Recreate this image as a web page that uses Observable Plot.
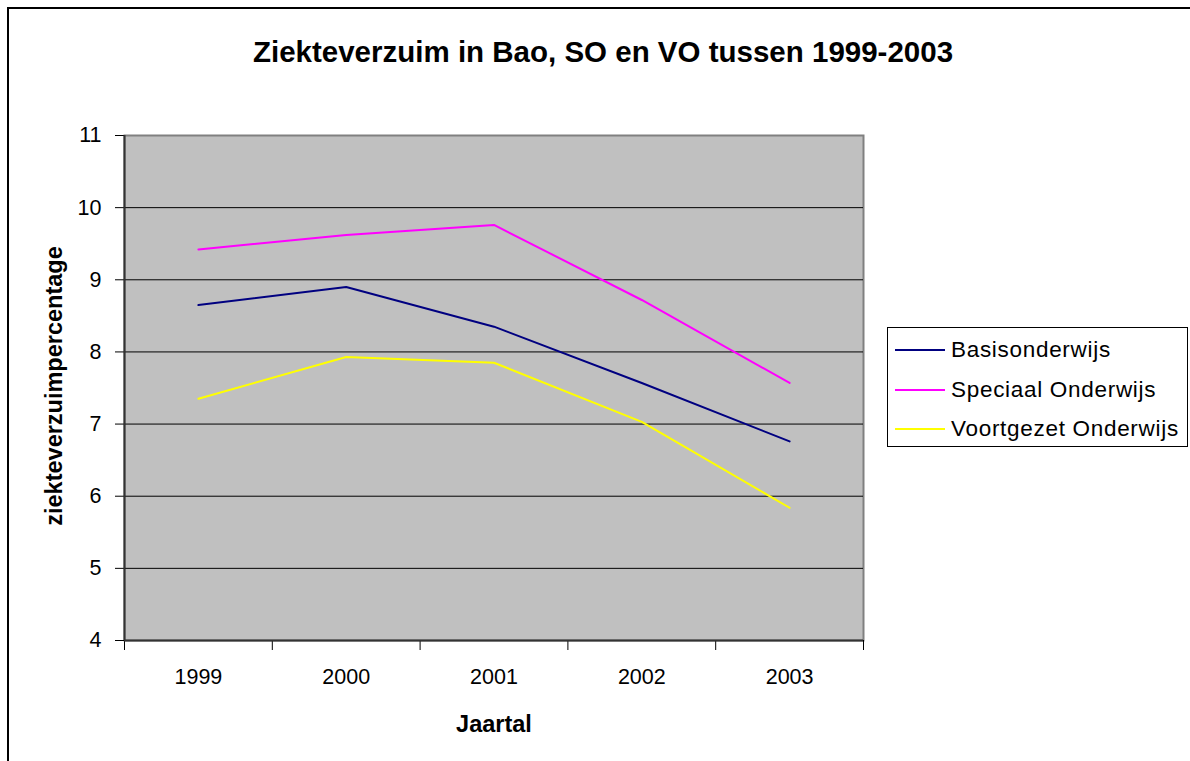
<!DOCTYPE html>
<html>
<head>
<meta charset="utf-8">
<script src="https://cdn.jsdelivr.net/npm/d3@7"></script>
<script src="https://cdn.jsdelivr.net/npm/@observablehq/plot@0.6"></script>
<style>
  html, body { margin: 0; padding: 0; background: #fff; overflow: hidden; }
  #wrap { position: relative; width: 1190px; height: 761px; font-family: "Liberation Sans", Arial, sans-serif; color: #000; }
  #frame { position: absolute; left: 7px; top: 7px; width: 1400px; height: 1000px; border-left: 2px solid #000; border-top: 2px solid #000; }
  .abs { position: absolute; white-space: nowrap; transform: translate(-50%, -50%); }
  #title { left: 603px; top: 52px; font-size: 29.5px; font-weight: bold; }
  #xlabel { left: 494px; top: 724px; font-size: 23.5px; font-weight: bold; }
  #ylabel { left: 54px; top: 386px; font-size: 23.5px; font-weight: bold; transform: translate(-50%, -50%) rotate(-90deg); }
  #legend { position: absolute; left: 887px; top: 327px; width: 299px; height: 118px; border: 1.5px solid #000; background: #fff; }
  .row { position: absolute; left: 7px; height: 24px; display: flex; align-items: center; font-size: 22.5px; letter-spacing: 0.7px; }
  .sw { width: 50px; height: 2px; margin-right: 6px; }
  #chart { position: absolute; left: 0; top: 0; }
</style>
</head>
<body>
<div id="wrap">
  <div id="frame"></div>
  <div id="chart"></div>
  <div id="title" class="abs">Ziekteverzuim in Bao, SO en VO tussen 1999-2003</div>
  <div id="xlabel" class="abs">Jaartal</div>
  <div id="ylabel" class="abs">ziekteverzuimpercentage</div>
  <div id="legend"></div>
</div>
<script>
const years = [1999, 2000, 2001, 2002, 2003];
const seriesNames = ["Basisonderwijs", "Speciaal Onderwijs", "Voortgezet Onderwijs"];
const seriesColors = ["#000080", "#FF00FF", "#FFFF00"];
const basisonderwijs = [8.65, 8.90, 8.35, 7.57, 6.76];
const speciaalOnderwijs = [9.42, 9.62, 9.76, 8.72, 7.57];
const voortgezetOnderwijs = [7.35, 7.93, 7.85, 7.03, 5.84];
const yTicks = [4, 5, 6, 7, 8, 9, 10, 11];

const seriesValues = [basisonderwijs, speciaalOnderwijs, voortgezetOnderwijs];
const rows = [];
seriesNames.forEach((name, i) => {
  years.forEach((yr, j) => rows.push({ series: name, year: yr, value: seriesValues[i][j] }));
});
const bounds = years.map(y => y - 0.5).concat([years[years.length - 1] + 0.5]);
const xDomain = [bounds[0], bounds[bounds.length - 1]];
const yDomain = [yTicks[0], yTicks[yTicks.length - 1]];
const gridValues = yTicks.slice(1, -1);

const chart = Plot.plot({
  width: 1190,
  height: 761,
  marginLeft: 124,
  marginRight: 327,
  marginTop: 135,
  marginBottom: 121,
  x: { domain: xDomain, axis: null },
  y: { domain: yDomain, axis: null },
  color: { domain: seriesNames, range: seriesColors },
  style: { fontFamily: '"Liberation Sans", Arial, sans-serif', fontSize: "21px", background: "transparent", color: "#000", overflow: "visible" },
  marks: [
    Plot.frame({ fill: "#c0c0c0", stroke: "#808080", strokeWidth: 2 }),
    Plot.ruleY(gridValues, { stroke: "#000", strokeWidth: 1 }),
    Plot.axisY({ ticks: yTicks, tickSize: 9, tickPadding: 14, tickFormat: d => String(d), label: null, fontSize: 21.5 }),
    Plot.axisX({ ticks: bounds, tickSize: 10, tickFormat: () => "", label: null }),
    Plot.axisX({ ticks: years, tickSize: 0, tickPadding: 28, tickFormat: d => String(d), label: null, fontSize: 21.5 }),
    Plot.ruleX([xDomain[0]], { stroke: "#333", strokeWidth: 2 }),
    Plot.ruleY([yDomain[0]], { stroke: "#333", strokeWidth: 2 }),
    Plot.line(rows, { x: "year", y: "value", z: "series", stroke: "series", strokeWidth: 2 })
  ]
});
document.getElementById("chart").appendChild(chart);

const legend = document.getElementById("legend");
seriesNames.forEach((name, i) => {
  const r = document.createElement("div");
  r.className = "row";
  r.style.top = (10 + i * 39.5) + "px";
  const sw = document.createElement("div");
  sw.className = "sw";
  sw.style.background = seriesColors[i];
  const t = document.createElement("span");
  t.textContent = name;
  r.appendChild(sw);
  r.appendChild(t);
  legend.appendChild(r);
});
</script>
</body>
</html>
